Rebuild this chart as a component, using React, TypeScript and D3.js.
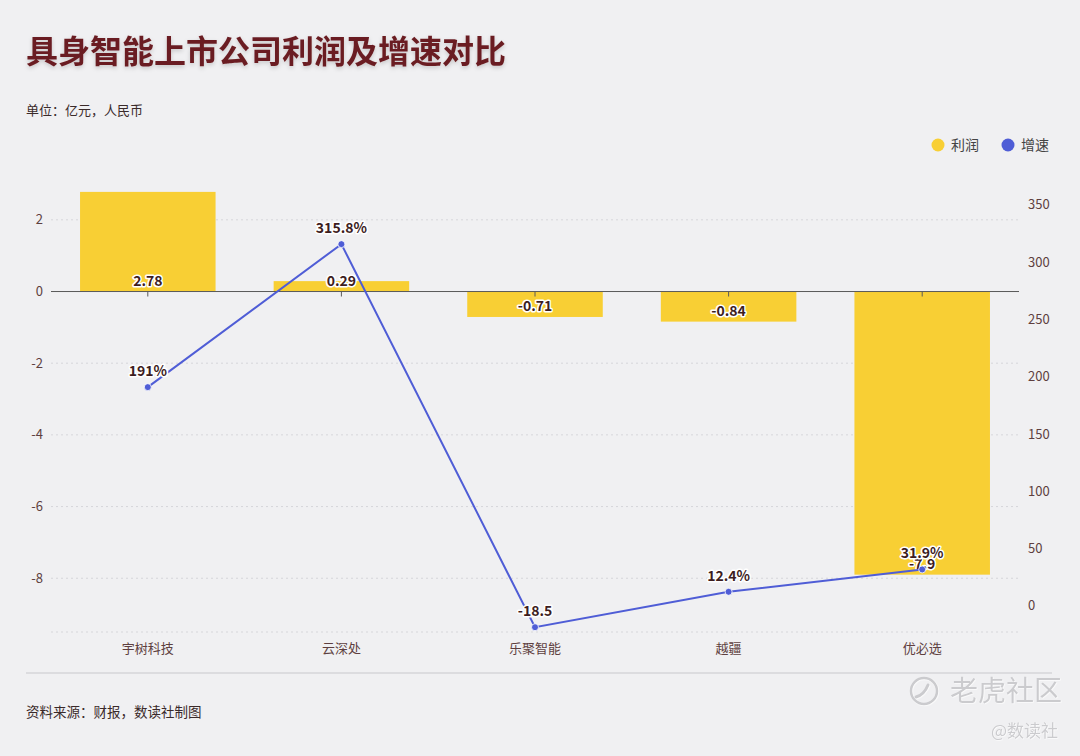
import * as d3 from "d3";

const companies = ["宇树科技", "云深处", "乐聚智能", "越疆", "优必选"];
const profit = [2.78, 0.29, -0.71, -0.84, -7.9];
const growth = [191, 315.8, -18.5, 12.4, 31.9];
const growthLabels = ["191%", "315.8%", "-18.5", "12.4%", "31.9%"];
const leftTicks = [2, 0, -2, -4, -6, -8];
const rightTicks = [0, 50, 100, 150, 200, 250, 300, 350];

const W = 1080;
const H = 756;
const font = "'Noto Sans CJK SC', 'Noto Sans', sans-serif";
const barColor = "#f8cf34";
const lineColor = "#4f5dd6";
const labelColor = "#3d1d1e";
const axisText = "#5e3f40";

export default function App() {
  const top = 184;
  const bottom = 632;
  const x = d3
    .scaleBand<string>()
    .domain(companies)
    .range([51, 1019])
    .paddingInner(0.3)
    .paddingOuter(0.15);
  const yL = d3.scaleLinear().domain([-9.5, 3]).range([bottom, top]);
  const yR = d3.scaleLinear().domain([-22.7, 368.3]).range([bottom, top]);
  const cx = (c: string) => (x(c) as number) + x.bandwidth() / 2;

  const line = d3
    .line<number>()
    .x((_, i) => cx(companies[i]))
    .y((d) => yR(d));

  const halo = {
    paintOrder: "stroke" as const,
    stroke: "#fff",
    strokeWidth: 3,
    strokeLinejoin: "round" as const,
  };

  return (
    <svg
      width={W}
      height={H}
      style={{ position: "absolute", left: 0, top: 0, background: "#f0f0f2", fontFamily: font }}
    >
      <defs>
        <filter id="shadow" x="-10%" y="-30%" width="120%" height="160%">
          <feDropShadow dx="0" dy="2" stdDeviation="2" floodColor="#000" floodOpacity="0.18" />
        </filter>
        <filter id="emboss" x="-10%" y="-30%" width="120%" height="160%">
          <feDropShadow dx="0.6" dy="0.6" stdDeviation="0.3" floodColor="#fff" floodOpacity="1" />
        </filter>
      </defs>
      <rect width={W} height={H} fill="#f0f0f2" />

      {/* header */}
      <text x={26} y={63} fontSize={32} fontWeight={700} fill="#6a1c20" filter="url(#shadow)">
        具身智能上市公司利润及增速对比
      </text>
      <text x={26} y={115} fontSize={13} fill="#3a2a2a">
        单位：亿元，人民币
      </text>

      {/* legend */}
      <circle cx={938} cy={145} r={6.5} fill={barColor} />
      <text x={951} y={150} fontSize={14} fill="#444">利润</text>
      <circle cx={1008} cy={145} r={6.5} fill={lineColor} />
      <text x={1021} y={150} fontSize={14} fill="#444">增速</text>

      {/* grid */}
      {leftTicks.filter((t) => t !== 0).map((t) => (
        <line key={t} x1={51} x2={1019} y1={yL(t)} y2={yL(t)} stroke="#d6d6da" strokeDasharray="2,3" />
      ))}
      <line x1={51} x2={1019} y1={bottom} y2={bottom} stroke="#d6d6da" strokeDasharray="2,3" />

      {/* left axis labels */}
      {leftTicks.map((t) => (
        <text key={t} x={43} y={yL(t) + 4.5} fontSize={13} fill={axisText} textAnchor="end">
          {t}
        </text>
      ))}
      {/* right axis labels */}
      {rightTicks.map((t) => (
        <text key={t} x={1028} y={yR(t) + 4.5} fontSize={13} fill={axisText}>
          {t}
        </text>
      ))}

      {/* bars */}
      {profit.map((v, i) => (
        <rect
          key={companies[i]}
          x={x(companies[i])}
          width={x.bandwidth()}
          y={Math.min(yL(v), yL(0))}
          height={Math.abs(yL(v) - yL(0))}
          fill={barColor}
        />
      ))}

      {/* zero axis */}
      <line x1={51} x2={1019} y1={yL(0)} y2={yL(0)} stroke="#5a5a5a" strokeWidth={1} />
      {companies.map((c) => (
        <line key={c} x1={cx(c)} x2={cx(c)} y1={yL(0)} y2={yL(0) + 5} stroke="#5a5a5a" />
      ))}

      {/* bar labels */}
      {profit.map((v, i) => (
        <text
          key={companies[i]}
          x={cx(companies[i])}
          y={Math.max(yL(v), yL(0)) - 6}
          fontSize={14}
          fontWeight={700}
          fill={labelColor}
          textAnchor="middle"
          style={halo}
        >
          {v}
        </text>
      ))}

      {/* growth line */}
      <path d={line(growth) as string} fill="none" stroke={lineColor} strokeWidth={2} />
      {growth.map((v, i) => (
        <circle key={companies[i]} cx={cx(companies[i])} cy={yR(v)} r={3.5} fill={lineColor} stroke="#fff" strokeWidth={0.8} />
      ))}
      {growth.map((v, i) => (
        <text
          key={companies[i]}
          x={cx(companies[i])}
          y={yR(v) - 11}
          fontSize={14}
          fontWeight={700}
          fill={labelColor}
          textAnchor="middle"
          style={halo}
        >
          {growthLabels[i]}
        </text>
      ))}

      {/* category labels */}
      {companies.map((c) => (
        <text key={c} x={cx(c)} y={653} fontSize={13} fill={axisText} textAnchor="middle">
          {c}
        </text>
      ))}

      {/* footer */}
      <line x1={26} x2={1052} y1={673} y2={673} stroke="#dcdcdf" strokeWidth={2} />
      <text x={26} y={717} fontSize={13.5} fill="#3a2a2a">
        资料来源：财报，数读社制图
      </text>

      {/* watermark */}
      <g filter="url(#emboss)">
        <circle cx={924} cy={691} r={13} fill="none" stroke="#cbcbce" strokeWidth={2.5} />
        <path d="M916,697 q8,-2 12,-12" fill="none" stroke="#cbcbce" strokeWidth={3} strokeLinecap="round" />
        <text x={950} y={701} fontSize={28} fill="#cbcbce">
          老虎社区
        </text>
        <text x={1058} y={737} fontSize={17} fill="#cbcbce" textAnchor="end">
          @数读社
        </text>
      </g>
    </svg>
  );
}
